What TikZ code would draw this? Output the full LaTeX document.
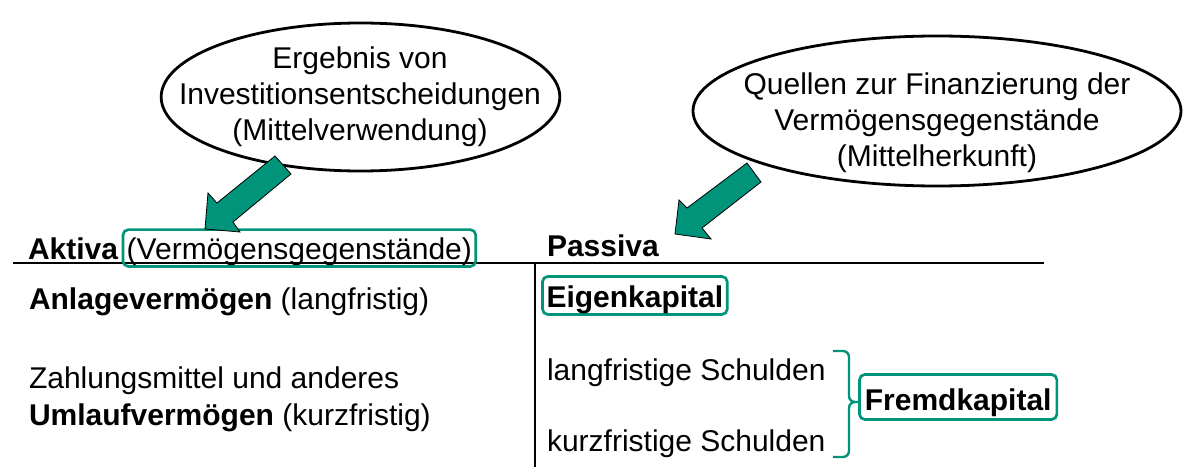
\documentclass[tikz,border=0pt]{standalone}
\usepackage{fontspec}
\setmainfont{Liberation Sans}
\usetikzlibrary{shapes.geometric}
\definecolor{teal1}{RGB}{0,148,122}
\begin{document}
\begin{tikzpicture}[x=0.75pt,y=-0.75pt,
  txt/.style={inner sep=0pt, outer sep=0pt, anchor=base west, font=\fontsize{22.5}{27}\selectfont},
  box/.style={txt, draw=teal1, line width=2pt, rounded corners=4pt, inner ysep=0pt},
  bubble/.style={ellipse, draw, line width=2.1pt, inner sep=0pt},
  blockarrow/.style={fill=teal1, draw=black, line width=0.6pt},
  tablerule/.style={line width=2.2pt},
  bracestyle/.style={draw=teal1, line width=1.8pt}]
\useasboundingbox (0,0) rectangle (1189,474);

% bubbles
\node[bubble, minimum width=299pt, minimum height=111pt] (e1) at (360.5,97) {};
\node[txt, anchor=center, align=center] (t1) at (360,96.5) {Ergebnis von\\Investitionsentscheidungen\\(Mittelverwendung)};
\node[bubble, minimum width=366pt, minimum height=112.5pt] (e2) at (937,111) {};
\node[txt, anchor=center, align=center] (t2) at (937,122.4) {Quellen zur Finanzierung der\\Verm\"ogensgegenst\"ande\\(Mittelherkunft)};

% table rules
\coordinate (hl) at (13,263);
\coordinate (hr) at (1044,263);
\coordinate (vt) at (535,263);
\coordinate (vb) at (535,467);
\draw[tablerule] (hl) -- (hr);
\draw[tablerule] (vt) -- (vb);

% left side
\node[txt] (aktiva) at (28,259) {\textbf{Aktiva}};
\node[box, inner xsep=2.8pt, text height=22pt, text depth=5.6pt] (vg) at (123,259) {(Verm\"ogensgegenst\"ande)};
\node[txt] (av) at (29,309) {\textbf{Anlageverm\"ogen} (langfristig)};
\node[txt] (zm) at (29,388) {Zahlungsmittel und anderes};
\node[txt] (uv) at (29,425) {\textbf{Umlaufverm\"ogen} (kurzfristig)};

% right side
\node[txt] (passiva) at (547,257) {\textbf{Passiva}};
\node[box, inner xsep=3pt, text height=22.9pt, text depth=5.6pt] (ek) at (542.5,307) {\textbf{Eigenkapital}};
\node[txt] (ls) at (547,380) {langfristige Schulden};
\node[txt] (ks) at (547,451) {kurzfristige Schulden};
\node[box, inner xsep=4pt, text height=27pt, text depth=6.75pt] (fk) at (859.5,410.5) {\textbf{Fremdkapital}};

% brace
\coordinate (bt) at (833,351);
\coordinate (bb) at (833,457);
\coordinate (btip) at (859.5,402);
\draw[bracestyle] (bt) -- (843,351) to[out=0,in=90] (849,357) -- (849,396) to[out=-90,in=180] (855,402) -- (btip);
\draw[bracestyle] (855,402) to[out=180,in=90] (849,408) -- (849,451) to[out=-90,in=0] (843,457) -- (bb);

% block arrows
\filldraw[blockarrow] (275,156) -- (291,174) -- (233,222) -- (240,232) -- (205,229) -- (208,193) -- (217,203) -- cycle;
\filldraw[blockarrow] (747,163) -- (761,182) -- (702,228) -- (711,239) -- (675,234) -- (679,200) -- (687,208) -- cycle;
\end{tikzpicture}
\end{document}
